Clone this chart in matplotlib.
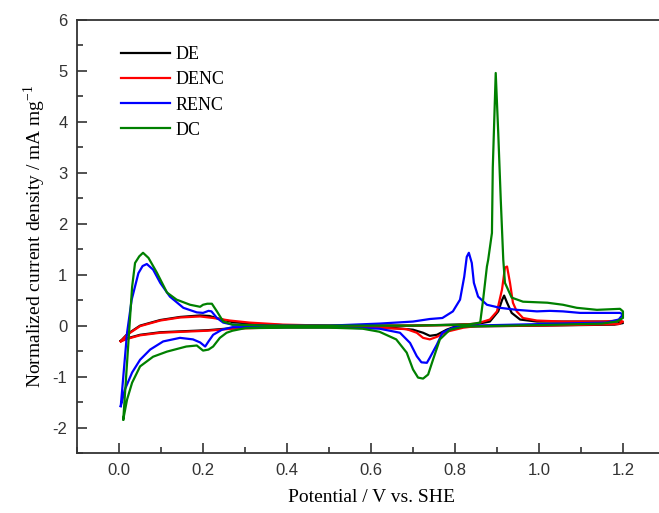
import matplotlib
matplotlib.use("Agg")
import matplotlib.pyplot as plt
from matplotlib.ticker import MultipleLocator

plt.rcParams["axes.unicode_minus"] = False

# cyclic voltammograms (anodic sweep then cathodic sweep)
de_E = [0.004, 0.019, 0.05, 0.098, 0.145, 0.193, 0.215, 0.24, 0.27, 0.31, 0.39, 0.5, 0.7, 0.85,
        0.883, 0.903, 0.912, 0.917, 0.924, 0.935, 0.955, 0.995, 1.15, 1.19, 1.2,
        1.18, 1.0, 0.8, 0.78, 0.757, 0.74, 0.724, 0.70, 0.66, 0.5, 0.39, 0.27, 0.21,
        0.153, 0.098, 0.05, 0.019, 0.004]
de_j = [-0.30, -0.17, 0.0, 0.11, 0.17, 0.20, 0.19, 0.13, 0.07, 0.04, 0.01, 0.0, 0.0, 0.03,
        0.08, 0.28, 0.50, 0.59, 0.45, 0.25, 0.12, 0.08, 0.08, 0.08, 0.05,
        0.02, 0.0, -0.02, -0.08, -0.18, -0.20, -0.14, -0.08, -0.05, -0.03, -0.03, -0.05, -0.09,
        -0.11, -0.13, -0.18, -0.25, -0.30]

denc_E = [0.004, 0.019, 0.05, 0.098, 0.145, 0.193, 0.224, 0.264, 0.31, 0.39, 0.5, 0.7, 0.80,
          0.852, 0.883, 0.90, 0.912, 0.919, 0.924, 0.931, 0.938, 0.947, 0.962, 0.995, 1.057,
          1.15, 1.193, 1.2,
          1.19, 1.0, 0.85, 0.82, 0.78, 0.757, 0.74, 0.724, 0.709, 0.685, 0.62, 0.5, 0.39,
          0.27, 0.21, 0.153, 0.098, 0.05, 0.019, 0.004]
denc_j = [-0.31, -0.18, -0.01, 0.10, 0.16, 0.18, 0.15, 0.10, 0.06, 0.02, 0.0, 0.0, 0.01,
          0.04, 0.12, 0.28, 0.71, 1.14, 1.16, 0.84, 0.45, 0.28, 0.15, 0.10, 0.08,
          0.08, 0.10, 0.08,
          0.03, 0.0, -0.01, -0.04, -0.12, -0.22, -0.27, -0.24, -0.14, -0.07, -0.04, -0.03, -0.03,
          -0.06, -0.10, -0.12, -0.14, -0.19, -0.26, -0.31]

renc_E = [0.004, 0.010, 0.019, 0.030, 0.046, 0.056, 0.066, 0.081, 0.098, 0.121, 0.153, 0.185,
          0.200, 0.213, 0.220, 0.233, 0.248, 0.270, 0.35, 0.5, 0.62, 0.70, 0.74, 0.77, 0.795,
          0.812, 0.822, 0.828, 0.833, 0.840, 0.845, 0.855, 0.876, 0.907, 0.947, 0.995, 1.026,
          1.057, 1.098, 1.152, 1.193, 1.2,
          1.19, 1.16, 1.0, 0.835, 0.795, 0.77, 0.757, 0.74, 0.733, 0.72, 0.709, 0.693, 0.669,
          0.62, 0.5, 0.35, 0.27, 0.245, 0.224, 0.213, 0.205, 0.193, 0.176, 0.145, 0.105, 0.074,
          0.05, 0.031, 0.014, 0.004]
renc_j = [-1.58, -1.0, -0.14, 0.51, 1.03, 1.17, 1.21, 1.10, 0.84, 0.57, 0.35, 0.26,
          0.25, 0.29, 0.28, 0.15, 0.06, 0.02, 0.0, 0.0, 0.04, 0.08, 0.13, 0.15, 0.28,
          0.51, 0.96, 1.35, 1.43, 1.23, 0.84, 0.57, 0.41, 0.35, 0.31, 0.28, 0.29,
          0.28, 0.25, 0.25, 0.25, 0.22,
          0.12, 0.06, 0.03, 0.0, -0.04, -0.14, -0.37, -0.63, -0.73, -0.72, -0.60, -0.34, -0.14,
          -0.06, -0.03, -0.03, -0.03, -0.08, -0.18, -0.31, -0.41, -0.33, -0.27, -0.24, -0.31, -0.47,
          -0.67, -0.92, -1.25, -1.58]

dc_E = [0.010, 0.020, 0.031, 0.038, 0.048, 0.057, 0.070, 0.090, 0.114, 0.137, 0.169, 0.193,
        0.200, 0.210, 0.221, 0.233, 0.248, 0.270, 0.35, 0.5, 0.7, 0.83, 0.86, 0.867, 0.876,
        0.879, 0.888, 0.890, 0.897, 0.903, 0.909, 0.915, 0.919, 0.935, 0.962, 1.02, 1.057,
        1.09, 1.138, 1.193, 1.2, 1.2,
        1.185, 1.15, 1.0, 0.86, 0.82, 0.788, 0.764, 0.748, 0.736, 0.724, 0.712, 0.700, 0.685,
        0.66, 0.62, 0.58, 0.5, 0.4, 0.3, 0.27, 0.256, 0.24, 0.224, 0.213, 0.200, 0.185, 0.16,
        0.114, 0.081, 0.05, 0.031, 0.019, 0.010]
dc_j = [-1.84, -0.60, 0.76, 1.23, 1.36, 1.43, 1.33, 1.04, 0.65, 0.51, 0.41, 0.37,
        0.41, 0.43, 0.43, 0.28, 0.08, 0.02, 0.0, 0.0, 0.0, 0.02, 0.06, 0.51, 1.16,
        1.29, 1.82, 3.1, 4.96, 3.78, 2.47, 1.29, 0.84, 0.55, 0.47, 0.45, 0.41,
        0.35, 0.31, 0.33, 0.28, 0.15,
        0.08, 0.04, 0.01, -0.01, -0.02, -0.08, -0.27, -0.66, -0.96, -1.04, -1.02, -0.86, -0.53,
        -0.27, -0.12, -0.06, -0.04, -0.04, -0.05, -0.10, -0.14, -0.24, -0.41, -0.47, -0.49, -0.39, -0.41,
        -0.51, -0.61, -0.80, -1.12, -1.45, -1.84]

series = [("DE", de_E, de_j, "black"),
          ("DENC", denc_E, denc_j, "red"),
          ("RENC", renc_E, renc_j, "blue"),
          ("DC", dc_E, dc_j, "#008000")]

fig = plt.figure(figsize=(6.59, 5.13), dpi=100)
ax = fig.add_axes([0.117, 0.117, 0.892, 0.844])

for name, E, j, c in series:
    ax.plot(E, j, color=c, lw=1.6, label=name)

ax.set_xlim(-0.1, 1.3)
ax.set_ylim(-2.5, 6)
ax.xaxis.set_major_locator(MultipleLocator(0.2))
ax.xaxis.set_minor_locator(MultipleLocator(0.1))
ax.yaxis.set_major_locator(MultipleLocator(1))
ax.yaxis.set_minor_locator(MultipleLocator(0.5))
ax.set_xticks([0.0, 0.2, 0.4, 0.6, 0.8, 1.0, 1.2])
ax.set_xticklabels(["0.0", "0.2", "0.4", "0.6", "0.8", "1.0", "1.2"])

ax.tick_params(which="both", direction="in", width=1.2, color="#333333",
               labelsize=12, pad=7)
ax.tick_params(which="major", length=7)
ax.tick_params(which="minor", length=4)
for lab in ax.get_xticklabels() + ax.get_yticklabels():
    lab.set_family("Liberation Sans")
    lab.set_color("#333333")
for s in ax.spines.values():
    s.set_linewidth(1.3)
    s.set_color("#333333")

ax.set_xlabel("Potential / V vs. SHE", family="Liberation Serif", fontsize=14, labelpad=8)
ax.set_ylabel("Normalized current density / mA mg$^{\\mathregular{-1}}$",
              family="Liberation Serif", fontsize=14, labelpad=3)

ax.legend(loc="upper left", bbox_to_anchor=(0.06, 0.96), frameon=False,
          prop={"family": "Liberation Serif", "size": 13},
          handlelength=2.7, handletextpad=0.3, labelspacing=0.45, borderpad=0)

fig.savefig("out.png", dpi=100)
